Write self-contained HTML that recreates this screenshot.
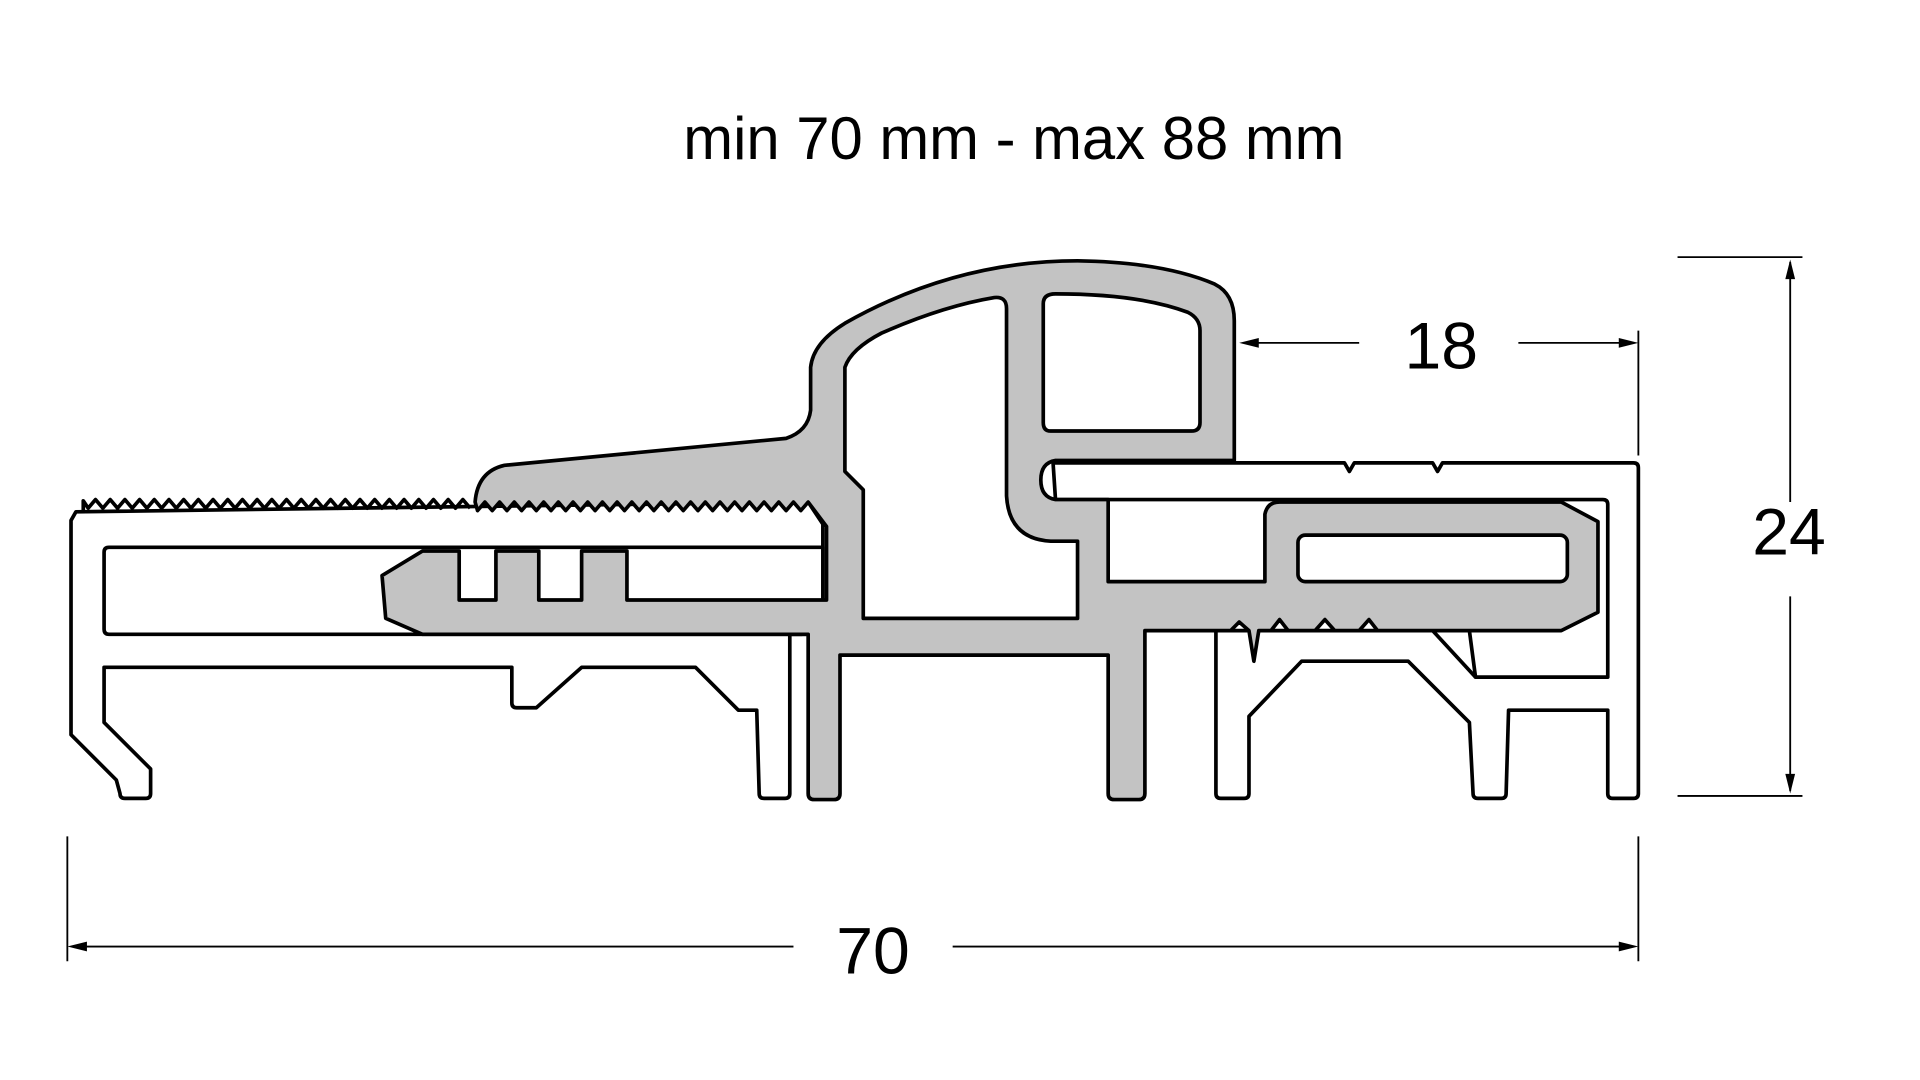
<!DOCTYPE html>
<html><head><meta charset="utf-8"><style>
html,body{margin:0;padding:0;background:#fff;}
svg{display:block;}
text{font-family:"Liberation Sans",sans-serif;fill:#000;}
</style></head><body>
<svg width="1920" height="1080" viewBox="0 0 1568 882" preserveAspectRatio="none" xmlns="http://www.w3.org/2000/svg">
<rect width="1568" height="882" fill="#fff"/>
<text x="828" y="130" font-size="49" text-anchor="middle" textLength="540" lengthAdjust="spacingAndGlyphs">min 70 mm - max 88 mm</text>
<text x="1177" y="301" font-size="54" text-anchor="middle">18</text>
<text x="1461" y="453" font-size="54" text-anchor="middle">24</text>
<text x="713" y="795" font-size="54" text-anchor="middle">70</text>

<g stroke="#000" stroke-width="1.5" fill="none">
<line x1="1370" y1="210" x2="1472" y2="210"/>
<line x1="1370" y1="650" x2="1472" y2="650"/>
<line x1="1462" y1="214" x2="1462" y2="410"/>
<line x1="1462" y1="487" x2="1462" y2="646"/>
<line x1="1016" y1="280" x2="1110" y2="280"/>
<line x1="1240" y1="280" x2="1334" y2="280"/>
<line x1="1338" y1="270" x2="1338" y2="372"/>
<line x1="55" y1="683" x2="55" y2="785"/>
<line x1="1338" y1="683" x2="1338" y2="785"/>
<line x1="59" y1="773" x2="648" y2="773"/>
<line x1="778" y1="773" x2="1334" y2="773"/>
</g>
<g fill="#000">
<polygon points="1462,212 1458,228 1466,228"/>
<polygon points="1462,648 1458,632 1466,632"/>
<polygon points="1012,280 1028,276 1028,284"/>
<polygon points="1338,280 1322,276 1322,284"/>
<polygon points="55,773 71,769 71,777"/>
<polygon points="1338,773 1322,769 1322,777"/>
</g>

<g stroke="#000" stroke-width="3" stroke-linejoin="round" fill="#fff">
<path d="M860 378 L1098 378 L1102 385 L1106 378 L1170 378 L1174 385 L1178 378 L1334 378 Q1338 378 1338 382 L1338 648 Q1338 652 1334 652 L1317 652 Q1313 652 1313 648 L1313 580 L1232 580 L1230 648 Q1230 652 1226 652 L1207 652 Q1203 652 1203 648 L1200 590 L1150 540 L1063 540 L1020 585 L1020 648 Q1020 652 1016 652 L997 652 Q993 652 993 648 L993 515 L1200 515 L1205 553 L1313 553 L1313 412 Q1313 408 1309 408 L862 408 Z"/>
<path d="M1170 515 L1205 553" fill="none"/>
<path d="M58 425 L62 418 L660 410 L672 428 L672 440 L672 492 L655 518 L645 518 L645 648 Q645 652 641 652 L624 652 Q620 652 620 648 L618 580 L603 580 L568 545 L475 545 L438 578 L422 578 Q418 578 418 574 L418 545 L85 545 L85 590 L123 628 L123 648 Q123 652 119 652 L102 652 Q98 652 98 648 L95 637 L58 600 Z"/>
<path d="M89 447 L672 447 L672 518 L89 518 Q85 518 85 514 L85 451 Q85 447 89 447 Z"/>
<path d="M68 418 L68 409 L72 415 L78 408 L84 415 L90 408 L96 415 L102 408 L108 415 L114 408 L120 415 L126 408 L132 415 L138 408 L144 415 L150 408 L156 415 L162 408 L168 415 L174 408 L180 415 L186 408 L192 415 L198 408 L204 415 L210 408 L216 415 L222 408 L228 415 L234 408 L240 415 L246 408 L252 415 L258 408 L264 415 L270 408 L276 415 L282 408 L288 415 L294 408 L300 415 L306 408 L312 415 L318 408 L324 415 L330 408 L336 415 L342 408 L348 415 L354 408 L360 415 L366 408 L372 415 L378 408 L384 415" fill="none"/>

<path fill="#c3c3c3" d="M388 410 Q390 385 412 380 L642 358 Q660 352 662 335 L662 300 Q664 280 690 264 Q780 213 880 213 Q950 214 992 232 Q1008 240 1008 262 L1008 376 L862 376 Q850 378 850 392 Q850 406 862 408 L905 408 L905 475 L1033 475 L1033 420 Q1035 410 1045 410 L1275 410 L1305 426 L1305 500 L1275 515 L1125 515 L1118 506 L1110 515 L1090 515 L1082 506 L1074 515 L1052 515 L1045 506 L1038 515 L1028 515 L1024 540 L1020 515 L1012 508 L1005 515 L935 515 L935 648 Q935 653 930 653 L910 653 Q905 653 905 648 L905 535 L686 535 L686 648 Q686 653 681 653 L665 653 Q660 653 660 648 L660 518 L345 518 L315 505 L312 470 L345 450 L375 450 L375 490 L405 490 L405 450 L440 450 L440 490 L475 490 L475 450 L512 450 L512 490 L675 490 L675 430 L660 410 L654 417 L648 410 L642 417 L636 410 L630 417 L624 410 L618 417 L612 410 L606 417 L600 410 L594 417 L588 410 L582 417 L576 410 L570 417 L564 410 L558 417 L552 410 L546 417 L540 410 L534 417 L528 410 L522 417 L516 410 L510 417 L504 410 L498 417 L492 410 L486 417 L480 410 L474 417 L468 410 L462 417 L456 410 L450 417 L444 410 L438 417 L432 410 L426 417 L420 410 L414 417 L408 410 L402 417 L396 410 L390 417 Z"/>
<path d="M690 300 Q695 285 720 272 Q770 250 812 243 Q822 242 822 252 L822 405 Q824 440 858 442 L880 442 L880 505 L705 505 L705 400 L690 385 Z"/>
<path d="M852 248 Q852 240 862 240 Q930 240 970 255 Q980 260 980 270 L980 345 Q980 352 973 352 L858 352 Q852 352 852 345 Z"/>
<rect x="1060" y="437" width="220" height="38" rx="6"/>
</g>
</svg>
</body></html>
